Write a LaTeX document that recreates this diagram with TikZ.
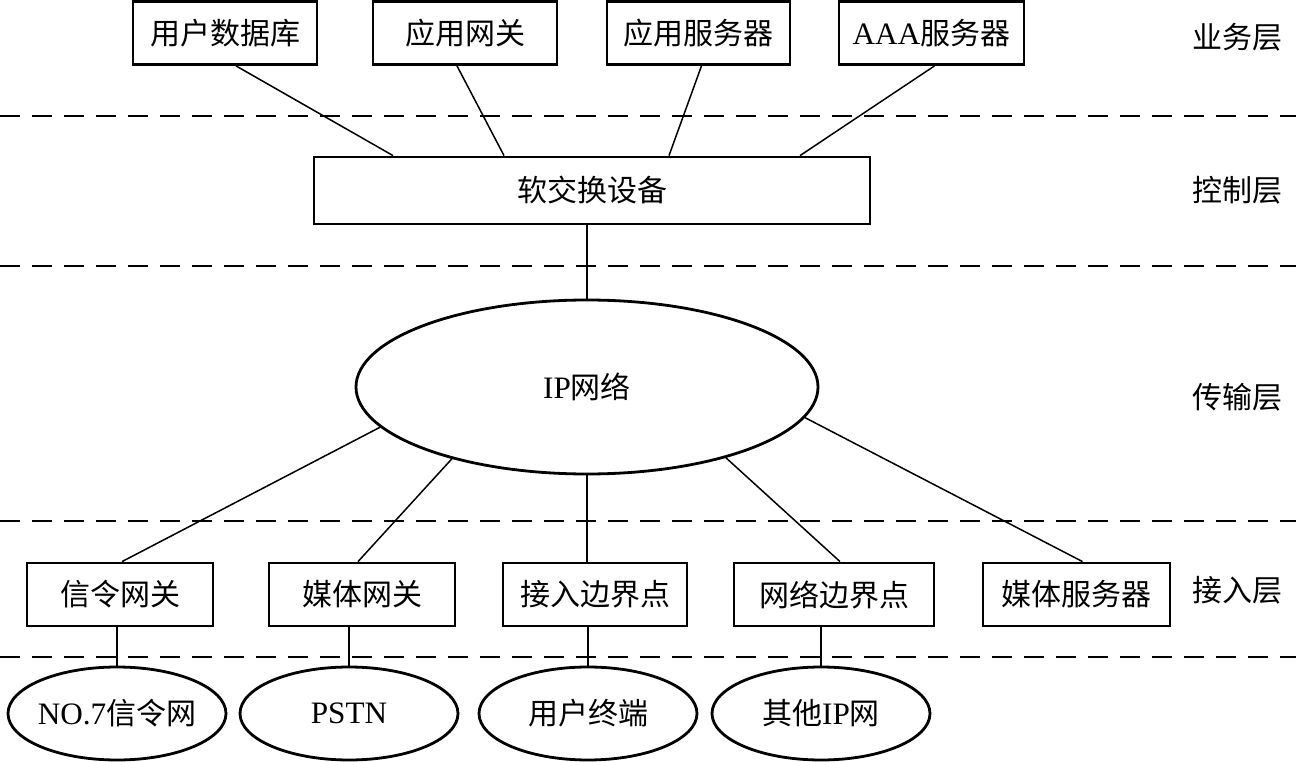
\documentclass[tikz,border=0pt]{standalone}
\usepackage{fontspec}
\setmainfont{Liberation Serif}[Scale=1.04]
\newfontfamily\cjk{Noto Sans CJK SC}
\usetikzlibrary{shapes.geometric,calc}
\begin{document}
\begin{tikzpicture}[x=1pt,y=-1pt,
  txt/.style={font=\fontsize{30}{35}\selectfont, inner sep=0pt},
  box/.style={txt, draw, line width=2.8pt, rectangle, minimum height=63pt},
  oval/.style={draw, line width=2.8pt, ellipse, inner sep=0pt, minimum width=218pt, minimum height=93pt},
  link/.style={line width=1.5pt},
  sep/.style={line width=1.6pt, dash pattern=on 20pt off 12pt}]
\useasboundingbox (0,0) rectangle (1296,762);
% layer separators
\draw[sep] (0,116) -- (1296,116);
\draw[sep] (0,266) -- (1296,266);
\draw[sep] (0,521) -- (1296,521);
\draw[sep] (0,657) -- (1296,657);
% top row
\node[box, minimum width=184pt] (db) at (225,33) {\cjk 用户数据库};
\node[box, minimum width=184pt] (ag) at (465,33) {\cjk 应用网关};
\node[box, minimum width=183pt] (as) at (698.5,33) {\cjk 应用服务器};
\node[box, minimum width=185pt] (aaa) at (931.5,33) {AAA{\cjk 服务器}};
% control
\node[box, minimum width=556pt, minimum height=67pt] (sw) at (592,190.5) {\cjk 软交换设备};
% transport
\node[txt, draw, line width=2.8pt, ellipse, minimum width=462pt, minimum height=174pt] (ip) at (587,387) {IP{\cjk 网络}};
% access row
\node[box, minimum width=186pt] (sg) at (120,594.5) {\cjk 信令网关};
\node[box, minimum width=186pt] (mg) at (362,594.5) {\cjk 媒体网关};
\node[box, minimum width=184pt] (ab) at (595,594.5) {\cjk 接入边界点};
\node[box, minimum width=200pt] (nb) at (834,594.5) {\cjk 网络边界点};
\node[box, minimum width=187pt] (ms) at (1076.5,594.5) {\cjk 媒体服务器};
% bottom networks
\node[oval, label={[txt]center:NO.7{\cjk 信令网}}] (no7) at (117,713.5) {};
\node[oval, label={[txt]center:PSTN}] (pstn) at (349,713.5) {};
\node[oval, label={[txt]center:{\cjk 用户终端}}] (ut) at (588,713.5) {};
\node[oval, label={[txt]center:{\cjk 其他}IP{\cjk 网}}] (oip) at (821,713.5) {};
% layer labels
\node[txt] (l1) at (1237,37) {\cjk 业务层};
\node[txt] (l2) at (1237,190) {\cjk 控制层};
\node[txt] (l3) at (1237,397) {\cjk 传输层};
\node[txt] (l4) at (1237,590) {\cjk 接入层};
% connectors top
\draw[link] ([xshift=11pt]db.south) -- ([xshift=-199pt]sw.north);
\draw[link] ([xshift=-8pt]ag.south) -- ([xshift=-88pt]sw.north);
\draw[link] ([xshift=3pt]as.south) -- ([xshift=77pt]sw.north);
\draw[link] ([xshift=3pt]aaa.south) -- ([xshift=208pt]sw.north);
\draw[link] (ip.north) -- (ip.north |- sw.south);
% connectors transport to access
\draw[link] (ip.191) -- ([xshift=2pt]sg.north);
\draw[link] (ip.208) -- ([xshift=-4pt]mg.north);
\draw[link] (ip.south) -- (ip.south |- ab.north);
\draw[link] (ip.-27) -- ([xshift=6pt]nb.north);
\draw[link] (ip.-8) -- ([xshift=6pt]ms.north);
% access to networks
\draw[link] (no7.north) -- (no7.north |- sg.south);
\draw[link] (pstn.north) -- (pstn.north |- mg.south);
\draw[link] (ut.north) -- (ut.north |- ab.south);
\draw[link] (oip.north) -- (oip.north |- nb.south);
\end{tikzpicture}
\end{document}
